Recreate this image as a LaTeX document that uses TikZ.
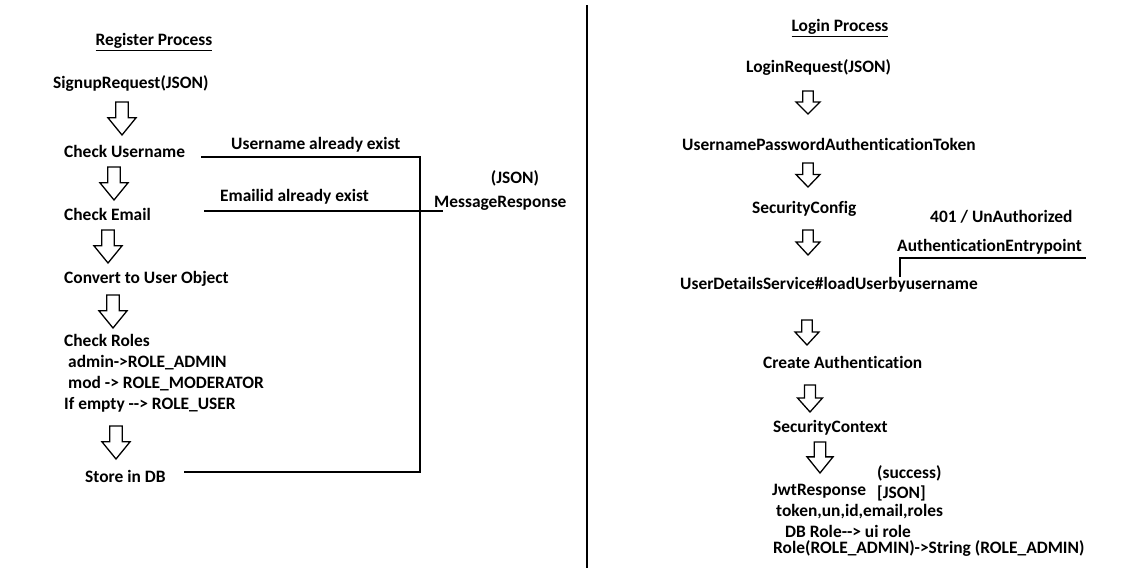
\documentclass[tikz,border=0pt]{standalone}
\usepackage{fontspec}
\setmainfont{Carlito}[Ligatures={TeXOff,CommonOff}]
\begin{document}
\begin{tikzpicture}[x=1pt,y=-1pt,
  lbl/.style={anchor=west,inner sep=0pt,yshift=-1.5pt,font=\fontsize{17.4}{20}\bfseries\selectfont,text height=12pt,text depth=3.5pt},
  lblc/.style={lbl,anchor=center},
  conn/.style={line width=1.8pt,line cap=rect},
  blockarrow/.pic={\draw[line width=1.3pt,line join=miter] (-0.22,0) -- (-0.22,0.48) -- (-0.5,0.48) -- (0,1) -- (0.5,0.48) -- (0.22,0.48) -- (0.22,0) -- cycle;}
]
\useasboundingbox (0,0) rectangle (1127,568);
% divider
\coordinate (dtop) at (587,5);
\coordinate (dbot) at (587,568);
\draw[line width=2pt] (dtop) -- (dbot);

% ---------- Register ----------
\node[lblc] (regtitle) at (154,40) {\underline{Register Process}};
\node[lbl] (signup) at (53,83) {SignupRequest(JSON)};
\pic[xscale=28,yscale=33] at (122,102) {blockarrow};
\node[lbl] (chkuser) at (64,152) {Check Username};
\pic[xscale=28,yscale=33] at (114,167) {blockarrow};
\node[lbl] (chkemail) at (64,215) {Check Email};
\pic[xscale=28,yscale=33] at (108,230) {blockarrow};
\node[lbl] (convert) at (64,278) {Convert to User Object};
\pic[xscale=28,yscale=33] at (113,295) {blockarrow};
\node[lbl] (roles1) at (64,341) {Check Roles};
\node[lbl] (roles2) at (68,362) {admin->ROLE\_ADMIN};
\node[lbl] (roles3) at (68,383) {mod -> ROLE\_MODERATOR};
\node[lbl] (roles4) at (64,404) {If empty --> ROLE\_USER};
\pic[xscale=28,yscale=33] at (116,426) {blockarrow};
\node[lbl] (store) at (85,477) {Store in DB};

\node[lbl] (userexist) at (231,144) {Username already exist};
\node[lbl] (emailexist) at (220,196) {Emailid already exist};
\node[lblc] (json1) at (515,178) {(JSON)};
\node[lbl] (msgresp) at (434,202) {MessageResponse};

\coordinate (c1) at (202,157);
\coordinate (j1) at (420,157);
\coordinate (c2) at (205,211);
\coordinate (e2) at (442,211);
\coordinate (c3) at (185,472);
\coordinate (j3) at (420,472);
\draw[conn] (c1) -- (j1) -- (j3) -- (c3);
\draw[conn] (c2) -- (e2);

% ---------- Login ----------
\node[lblc] (logtitle) at (840,26) {\underline{Login Process}};
\node[lbl] (loginreq) at (746,67) {LoginRequest(JSON)};
\pic[xscale=24,yscale=23] at (808,91) {blockarrow};
\node[lbl] (uptoken) at (682,145) {UsernamePasswordAuthenticationToken};
\pic[xscale=24,yscale=24] at (808,163) {blockarrow};
\node[lbl] (seccfg) at (752,208) {SecurityConfig};
\pic[xscale=24,yscale=25] at (808,230) {blockarrow};
\node[lbl] (uds) at (680,284) {UserDetailsService\#loadUserbyusername};
\node[lbl] (unauth) at (930,217) {401 / UnAuthorized};
\node[lbl] (entry) at (897,246) {AuthenticationEntrypoint};
\coordinate (a1) at (900,277);
\coordinate (a2) at (900,258);
\coordinate (a3) at (1086,258);
\draw[line width=1.4pt] (a1) -- (a2) -- (a3);
\pic[xscale=24,yscale=25] at (807,320) {blockarrow};
\node[lbl] (createauth) at (763,363) {Create Authentication};
\pic[xscale=25,yscale=27] at (810,385) {blockarrow};
\node[lbl] (secctx) at (773,427) {SecurityContext};
\pic[xscale=26,yscale=31] at (820,442) {blockarrow};
\node[lbl] (jwt) at (772,490) {JwtResponse};
\node[lbl] (success) at (877,473) {(success)};
\node[lbl] (json2) at (877,493) {[JSON]};
\node[lbl] (tok) at (776,511) {token,un,id,email,roles};
\node[lbl] (dbrole) at (785,532) {DB Role--> ui role};
\node[lbl] (rolestr) at (773,548) {Role(ROLE\_ADMIN)->String (ROLE\_ADMIN)};
\end{tikzpicture}
\end{document}
